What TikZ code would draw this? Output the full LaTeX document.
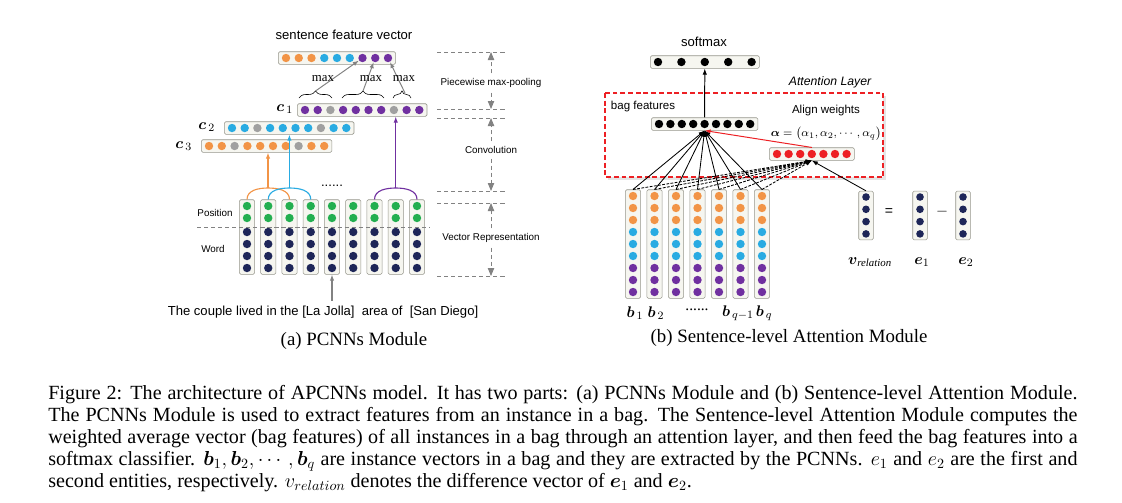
\documentclass[tikz,border=0pt]{standalone}
\usepackage{amsmath,amssymb}
\usepackage{fontspec}
\setmainfont{Liberation Serif}
\setsansfont{Liberation Sans}
\usetikzlibrary{calc,fit,arrows.meta,decorations.pathreplacing,backgrounds}
\definecolor{dotorange}{RGB}{242,148,70}
\definecolor{dotblue}{RGB}{41,171,226}
\definecolor{dotpurple}{RGB}{112,48,160}
\definecolor{dotgray}{RGB}{160,160,160}
\definecolor{dotgreen}{RGB}{35,175,80}
\definecolor{dotnavy}{RGB}{30,38,88}
\definecolor{dotred}{RGB}{237,32,36}
\definecolor{boxline}{RGB}{150,150,140}
\definecolor{boxfill}{RGB}{246,246,240}
\definecolor{guide}{RGB}{130,130,130}
\def\unitnode{\node[circle,inner sep=0pt,minimum size=0.21cm]}
\def\vecbox{\node[draw=boxline,fill=boxfill,rounded corners=1pt,inner xsep=0.08cm,inner ysep=0.045cm]}

\begin{document}
\begin{tikzpicture}[x=0.025cm,y=-0.025cm,>={Latex[length=1.5mm,width=1.1mm]},
  lbl/.style={font=\sffamily\fontsize{9.3}{11}\selectfont},
  lblsmall/.style={font=\sffamily\fontsize{7}{8.4}\selectfont},
  lblright/.style={font=\sffamily\fontsize{8.2}{9.8}\selectfont},
  mathlbl/.style={font=\fontsize{11}{13}\selectfont},
  maxlbl/.style={font=\fontsize{9.1}{11}\selectfont},
  sublbl/.style={font=\fontsize{13.4}{16}\selectfont},
  guideline/.style={guide,dash pattern=on 3pt off 2pt,line width=0.6pt},
  guidearrow/.style={guideline,-{Triangle[length=2mm,width=1.6mm]}},
  attnframe/.style={draw=dotred,dash pattern=on 3.5pt off 2pt,line width=0.9pt},
  feed/.style={line width=0.8pt,->}]
\useasboundingbox (0,0) rectangle (1122,502);

% ---- (a) PCNNs module
\node[lbl] (sfvlabel) at (344,35) {sentence feature vector};
\foreach \c [count=\i] in {dotorange,dotorange,dotorange,dotblue,dotblue,dotblue,dotpurple,dotpurple,dotpurple}
  \unitnode[fill=\c] (sfv\i) at ({286+12.75*(\i-1)},58) {};
\foreach \c [count=\i] in {dotpurple,dotpurple,dotgray,dotpurple,dotpurple,dotpurple,dotpurple,dotgray,dotpurple,dotpurple}
  \unitnode[fill=\c] (cone\i) at ({305+12.7*(\i-1)},110) {};
\foreach \c [count=\i] in {dotblue,dotblue,dotgray,dotblue,dotblue,dotblue,dotblue,dotgray,dotblue,dotblue}
  \unitnode[fill=\c] (ctwo\i) at ({232+12.7*(\i-1)},128) {};
\foreach \c [count=\i] in {dotorange,dotorange,dotgray,dotorange,dotorange,dotorange,dotorange,dotgray,dotorange,dotorange}
  \unitnode[fill=\c] (cthree\i) at ({209+12.8*(\i-1)},146) {};
\foreach \k in {1,...,9}
  \foreach \c [count=\j] in {dotgreen,dotgreen,dotnavy,dotnavy,dotnavy,dotnavy}
    \unitnode[fill=\c] (w\k-\j) at ({247+21.25*(\k-1)},{\j<3 ? 194+12*\j : 196+12*\j}) {};
\begin{pgfonlayer}{background}
\vecbox[fit=(sfv1)(sfv9)] (sfv) {};
\vecbox[fit=(cone1)(cone10)] (cone) {};
\vecbox[fit=(ctwo1)(ctwo10)] (ctwo) {};
\vecbox[fit=(cthree1)(cthree10)] (cthree) {};
\foreach \k in {1,...,9}
  \vecbox[fit=(w\k-1)(w\k-6)] (w\k) {};
\end{pgfonlayer}

\node[mathlbl,anchor=east] (lcone) at (298,109) {$\boldsymbol{c}_{\,1}$};
\node[mathlbl,anchor=east] (lctwo) at (220,127) {$\boldsymbol{c}_{\,2}$};
\node[mathlbl,anchor=east] (lcthree) at (197,146) {$\boldsymbol{c}_{\,3}$};

% max-pooling pieces
\draw[decorate,decoration={brace,amplitude=5pt}] (299,98) -- (332,98);
\draw[decorate,decoration={brace,amplitude=5pt}] (342,98) -- (384,98);
\draw[decorate,decoration={brace,amplitude=5pt}] (393,98) -- (411,98);
\coordinate (tipA) at (315.5,91);
\coordinate (tipB) at (363,91);
\coordinate (tipC) at (405,93);
\draw[guide,line width=0.7pt,->] (tipA) -- (sfv7);
\draw[guide,line width=0.7pt,->] (tipB) -- (sfv8);
\draw[guide,line width=0.7pt,->] (tipC) -- (sfv9);
\node[maxlbl] (maxA) at (323,79) {max};
\node[maxlbl] (maxB) at (371,79) {max};
\node[maxlbl] (maxC) at (404,79) {max};

% convolution windows
\coordinate (arcO) at (268,188);
\coordinate (arcB) at (289.4,188);
\coordinate (arcP) at (395.75,188);
\draw[dotorange,line width=0.8pt] (w1.north) to[out=90,in=180] (arcO) to[out=0,in=90] (w3.north);
\draw[dotblue,line width=0.8pt] (w2.north) to[out=90,in=180] (arcB) to[out=0,in=90] (w4.north);
\draw[dotpurple,line width=0.8pt] (w7.north) to[out=90,in=180] (arcP) to[out=0,in=90] (w9.north);
\draw[dotorange,feed] (arcO) -- (arcO |- cthree.south);
\draw[dotblue,feed] (arcB) -- (arcB |- ctwo.south);
\draw[dotpurple,feed] (arcP) -- (arcP |- cone.south);
\node[lbl] (gap) at (332,186) {......};

% position / word split
\coordinate (splitL) at (197,227);
\coordinate (splitR) at (430,227);
\draw[guideline] (splitL) -- (splitR);
\node[lblsmall] (pos) at (215,213) {Position};
\node[lblsmall] (word) at (213,249) {Word};

\node[lbl] (sent) at (323,312) {The couple lived in the [La Jolla]\ \ area of\ \ [San Diego]};
\draw[guide,feed] (sent.north -| w5) -- (w5.south);

% stage guides
\foreach \y [count=\i] in {52,109,118,191,203,276} {
  \coordinate (ga\i) at (437,\y);
  \coordinate (gb\i) at (505,\y);
  \draw[guideline] (ga\i) -- (gb\i);
}
\node[lblsmall] (pool) at (491,83) {Piecewise max-pooling};
\draw[guidearrow] (pool.north) -- (pool.north |- ga1);
\draw[guidearrow] (pool.south) -- (pool.south |- ga2);
\node[lblsmall] (conv) at (491,150) {Convolution};
\draw[guidearrow] (conv.north) -- (conv.north |- ga3);
\draw[guidearrow] (conv.south) -- (conv.south |- ga4);
\node[lblsmall] (vrep) at (491,238) {Vector Representation};
\draw[guidearrow] (vrep.north) -- (vrep.north |- ga5);
\draw[guidearrow] (vrep.south) -- (vrep.south |- ga6);

\node[sublbl] (capa) at (354,341) {(a) PCNNs Module};

% ---- (b) sentence-level attention
\begin{pgfonlayer}{background}
\fill[black!10] (607.5,95.5) rectangle (885.5,179.5);
\fill[white] (605,93) rectangle (883,177);
\end{pgfonlayer}
\coordinate (frameNW) at (605,93);
\coordinate (frameSE) at (883,177);
\draw[attnframe] (frameNW) rectangle (frameSE);
\node[font=\sffamily\itshape\fontsize{8.7}{10}\selectfont] (attn) at (830,82) {Attention Layer};
\node[lbl] (smlabel) at (704,42) {softmax};
\foreach \i in {1,...,5}
  \unitnode[fill=black] (sm\i) at ({658+23.4*(\i-1)},62) {};
\foreach \i in {1,...,9}
  \unitnode[fill=black] (bag\i) at ({659+11.4*(\i-1)},124) {};
\foreach \i in {1,...,7}
  \unitnode[fill=dotred] (wt\i) at ({777+11.6*(\i-1)},154) {};
\foreach \k in {1,...,7}
  \foreach \c [count=\j] in {dotorange,dotorange,dotorange,dotblue,dotblue,dotblue,dotpurple,dotpurple,dotpurple}
    \unitnode[fill=\c] (b\k-\j) at ({633+21.5*(\k-1)},{184+12*\j}) {};
\foreach \nm/\x in {vrel/866,eone/920,etwo/963}
  \foreach \j in {1,...,4}
    \unitnode[fill=dotnavy,minimum size=0.19cm] (\nm-\j) at (\x,{184.7+12.3*\j}) {};
\begin{pgfonlayer}{background}
\vecbox[fit=(sm1)(sm5)] (sm) {};
\vecbox[fit=(bag1)(bag9)] (bag) {};
\vecbox[fit=(wt1)(wt7)] (wts) {};
\foreach \k in {1,...,7}
  \vecbox[fit=(b\k-1)(b\k-9)] (b\k) {};
\foreach \nm in {vrel,eone,etwo}
  \vecbox[fit=(\nm-1)(\nm-4)] (\nm) {};
\end{pgfonlayer}

\node[lblright,anchor=west] (baglabel) at (606,107) {bag features};
\node[lblright,inner sep=0.5pt] (alabel) at (826,111) {Align weights};
\node[font=\fontsize{8}{9.5}\selectfont,inner sep=0.5pt] (alpha) at (826,134)
  {$\boldsymbol{\alpha}=\bigl(\alpha_1,\alpha_2,\cdots,\alpha_q\bigr)$};

\draw[line width=0.7pt,->] (bag.north) -- (sm.south);
\draw[dotred,line width=0.7pt,->] (wts.north) -- (bag.south);
\foreach \k in {1,...,7} {
  \draw[line width=0.6pt,->] (b\k.north) -- (bag.south);
  \draw[line width=0.6pt,dash pattern=on 2pt off 1pt,->] (b\k.north) -- (wts.south);
}
\draw[line width=0.6pt,->] (vrel.north) -- (wts.south);

\node[mathlbl] (lbone) at (635,313) {$\boldsymbol{b}_{\,1}$};
\node[mathlbl] (lbtwo) at (656,313) {$\boldsymbol{b}_{\,2}$};
\node[mathlbl] (lbdots) at (697,310) {......};
\node[mathlbl] (lbqm) at (738,313) {$\boldsymbol{b}_{\,q-1}$};
\node[mathlbl] (lbq) at (764,313) {$\boldsymbol{b}_{\,q}$};
\node[font=\sffamily\fontsize{10}{12}\selectfont] (eqs) at (889,212) {=};
\node[font=\fontsize{11}{13}\selectfont] (minus) at (942,212) {$-$};
\node[mathlbl] (lvrel) at (870,262) {$\boldsymbol{v}_{\textit{relation}}$};
\node[mathlbl] (leone) at (922,262) {$\boldsymbol{e}_{1}$};
\node[mathlbl] (letwo) at (966,262) {$\boldsymbol{e}_{2}$};

\node[sublbl] (capb) at (789,338) {(b) Sentence-level Attention Module};

% ---- figure caption
\node[anchor=base west,inner sep=0pt,text width=25.725cm,align=justify,
  font=\fontsize{14.3}{15.8}\selectfont] (caption) at (48,399)
  {Figure 2: The architecture of APCNNs model. It has two parts: (a) PCNNs Module and (b) Sentence-level Attention Module.\linebreak
  The PCNNs Module is used to extract features from an instance in a bag. The Sentence-level Attention Module computes the\linebreak
  weighted average vector (bag features) of all instances in a bag through an attention layer, and then feed the bag features into a\linebreak
  softmax classifier. $\boldsymbol{b}_1,\boldsymbol{b}_2,\cdots,\boldsymbol{b}_q$ are instance vectors in a bag and they are extracted by the PCNNs. $e_1$ and $e_2$ are the first and\linebreak
  second entities, respectively. $v_{relation}$ denotes the difference vector of $\boldsymbol{e}_1$ and $\boldsymbol{e}_2$.};
\end{tikzpicture}
\end{document}
